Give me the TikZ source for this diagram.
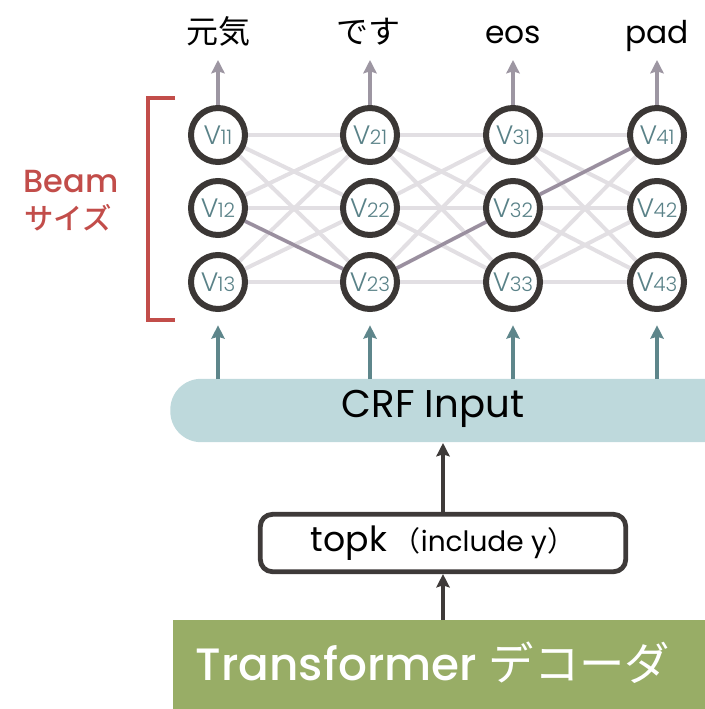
\documentclass[tikz,border=0pt]{standalone}
\usepackage{fontspec}
\setmainfont{Poppins}[BoldFont={* Medium}]
\newfontfamily\poplight{Poppins Light}
\newfontfamily\jp{Noto Sans CJK JP}[BoldFont={Noto Sans CJK JP Medium}]
\usetikzlibrary{arrows.meta,backgrounds}

\definecolor{nodeline}{HTML}{3B3735}
\definecolor{vlabel}{HTML}{5A8288}
\definecolor{outarrow}{HTML}{9D96A2}
\definecolor{lattice}{HTML}{E2DFE3}
\definecolor{bestpath}{HTML}{9A8F9F}
\definecolor{beamred}{HTML}{C24D4A}
\definecolor{inarrow}{HTML}{5E868B}
\definecolor{crffill}{HTML}{BED9DC}
\definecolor{darkline}{HTML}{3E3A39}
\definecolor{decoder}{HTML}{98AD66}

\newcommand{\fs}[1]{\fontsize{#1}{#1}\selectfont}

\begin{document}
\begin{tikzpicture}[x=0.75pt,y=-0.75pt,
  vnode/.style={circle,draw=nodeline,line width=4.5pt,fill=white,
    minimum size=40.5pt,inner sep=0pt,text=vlabel,font=\poplight},
  outlabel/.style={anchor=base,text=black,inner sep=0pt},
  outedge/.style={draw=outarrow,line width=3pt,
    -{Stealth[length=10pt,width=10pt,inset=1.5pt]}},
  inedge/.style={draw=inarrow,line width=3pt,
    -{Stealth[length=10pt,width=10pt,inset=1.5pt]}},
  flowedge/.style={draw=darkline,line width=3pt,
    -{Stealth[length=10pt,width=10pt,inset=1.5pt]}},
  latticeedge/.style={draw=lattice,line width=3pt},
  pathedge/.style={draw=bestpath,line width=2.6pt},
]
\useasboundingbox (0,0) rectangle (704,709);

% Viterbi lattice nodes
\foreach \c/\x in {1/218,2/370,3/513,4/657}{
  \foreach \r/\y in {1/135,2/208,3/282}{
    \node[vnode] (v\c\r) at (\x,\y) {{\fs{20}V}\kern-0.5pt{\fs{15}\c\r}};
  }
}

% all transitions between neighbouring columns
\begin{scope}[on background layer]
  \foreach \a/\b in {1/2,2/3,3/4}{
    \foreach \i in {1,2,3}{
      \foreach \j in {1,2,3}{
        \draw[latticeedge] (v\a\i) -- (v\b\j);
      }
    }
  }
  % best path
  \draw[pathedge] (v12) -- (v23);
  \draw[pathedge] (v23) -- (v32);
  \draw[pathedge] (v32) -- (v41);
\end{scope}

% output tokens
\node[outlabel] (w1) at (218,44) {\fs{24}\jp 元気};
\node[outlabel] (w2) at (368,44) {\fs{24}\jp です};
\node[outlabel] (w3) at (513,44) {\fs{23.5}eos};
\node[outlabel] (w4) at (657,44) {\fs{23.5}pad};
\foreach \c/\x in {1/218,2/370,3/513,4/657}{
  \coordinate (t\c) at (\x,60);
  \draw[outedge] (v\c1) -- (t\c);
}

% beam size bracket
\coordinate (bt) at (175,98);
\coordinate (bb) at (175,320);
\draw[beamred,line width=3pt] (bt) -- ++(-27,0) |- (bb);
\node[text=beamred,anchor=base,inner sep=0pt] (beam) at (71,193) {\fs{24}\bfseries Beam};
\node[text=beamred,anchor=base,inner sep=0pt] (size) at (68,229) {\fs{22}\jp\bfseries サイズ};

% CRF input band
\node[fill=crffill,rounded corners=23pt,minimum width=427pt,minimum height=47.5pt,
  inner sep=0pt] (crf) at (455,410.5) {};
\node[inner sep=0pt] (crftext) at (433,409) {\fs{29}CRF Input};
\foreach \c/\x in {1/218,2/370,3/513,4/657}{
  \coordinate (b\c) at (\x,379);
  \draw[inedge,shorten >=10pt] (b\c) -- (v\c3);
}

% top-k selection
\node[draw=darkline,line width=3.6pt,rounded corners=9pt,fill=white,
  minimum width=274pt,minimum height=43pt,inner sep=0pt] (topk) at (443,543)
  {\fs{26}topk\,\fs{21}{\jp （}include y{\jp ）}};
\coordinate (crfin) at (443,443);
\draw[flowedge] (topk) -- (crfin);

% decoder block
\fill[decoder] (173,620) rectangle (720,720);
\node[inner sep=0pt,text=white,anchor=base] (dec) at (433,680)
  {\fs{34}{\bfseries Transformer} {\jp デコーダ}};
\coordinate (dectop) at (443,620);
\draw[flowedge] (dectop) -- (topk);
\end{tikzpicture}
\end{document}
